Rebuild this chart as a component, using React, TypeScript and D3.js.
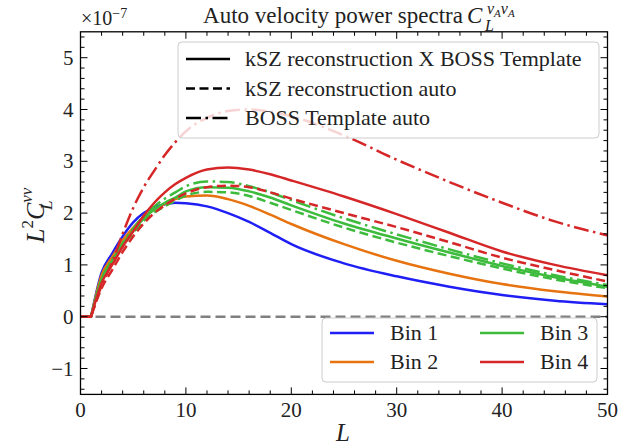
import React from 'react';
import * as d3 from 'd3';

// ---- data (values in units of 1e-7) ----
const L_VALUES = [0, 1, 2, 3, 4, 5, 6, 7, 8, 9, 10, 12, 14, 16, 18, 20, 25, 30, 35, 40, 45, 50];

const BIN1_CROSS = [0, 0, 0.85, 1.22, 1.55, 1.82, 2.0, 2.11, 2.17, 2.2, 2.19, 2.13, 2.0, 1.83, 1.62, 1.4, 1.03, 0.78, 0.58, 0.42, 0.31, 0.24];
const BIN2_CROSS = [0, 0, 0.8, 1.15, 1.47, 1.72, 1.92, 2.07, 2.18, 2.27, 2.32, 2.34, 2.27, 2.14, 1.97, 1.79, 1.4, 1.08, 0.83, 0.63, 0.49, 0.39];
const BIN3_CROSS = [0, 0, 0.72, 1.08, 1.4, 1.66, 1.9, 2.07, 2.2, 2.3, 2.42, 2.5, 2.49, 2.42, 2.3, 2.15, 1.8, 1.51, 1.24, 0.98, 0.76, 0.58];
const BIN3_KSZ = [0, 0, 0.7, 1.05, 1.36, 1.62, 1.85, 2.01, 2.13, 2.24, 2.34, 2.41, 2.4, 2.33, 2.2, 2.06, 1.72, 1.43, 1.17, 0.93, 0.72, 0.55];
const BIN3_BOSS = [0, 0, 0.72, 1.1, 1.42, 1.7, 1.95, 2.13, 2.28, 2.4, 2.52, 2.61, 2.6, 2.52, 2.4, 2.25, 1.9, 1.59, 1.3, 1.03, 0.8, 0.61];
const BIN4_CROSS = [0, 0, 0.65, 1.0, 1.35, 1.65, 1.95, 2.2, 2.4, 2.56, 2.68, 2.84, 2.88, 2.84, 2.75, 2.63, 2.32, 1.98, 1.62, 1.26, 1.0, 0.8];
const BIN4_KSZ = [0, 0, 0.55, 0.9, 1.25, 1.55, 1.8, 2.0, 2.15, 2.28, 2.38, 2.5, 2.53, 2.5, 2.4, 2.28, 2.0, 1.73, 1.44, 1.14, 0.9, 0.68];
const BIN4_BOSS = [0, 0, 0.6, 1.05, 1.6, 2.1, 2.5, 2.82, 3.12, 3.37, 3.58, 3.84, 3.97, 4.0, 3.96, 3.87, 3.5, 3.03, 2.6, 2.2, 1.84, 1.57];

const BIN_LABELS = ['Bin 1', 'Bin 2', 'Bin 3', 'Bin 4'];
const BIN_COLORS = ['#1f1ff5', '#e6730f', '#3cbb3c', '#d62728'];
const STYLE_LABELS = ['kSZ reconstruction X BOSS Template', 'kSZ reconstruction auto', 'BOSS Template auto'];

const X_TICKS = [0, 10, 20, 30, 40, 50];
const Y_TICKS = [-1, 0, 1, 2, 3, 4, 5];

const DASHES: Record<string, string | undefined> = {
  solid: undefined,
  dashed: '9 4.5',
  dashdot: '15 4.5 2.5 4.5',
};

const SERIES = [
  { values: BIN1_CROSS, bin: 0, style: 'solid' },
  { values: BIN2_CROSS, bin: 1, style: 'solid' },
  { values: BIN3_CROSS, bin: 2, style: 'solid' },
  { values: BIN3_KSZ, bin: 2, style: 'dashed' },
  { values: BIN3_BOSS, bin: 2, style: 'dashdot' },
  { values: BIN4_CROSS, bin: 3, style: 'solid' },
  { values: BIN4_KSZ, bin: 3, style: 'dashed' },
  { values: BIN4_BOSS, bin: 3, style: 'dashdot' },
];

const FONT = "'Liberation Serif', 'DejaVu Serif', serif";
const TXT = { fontFamily: FONT };

export default function App() {
  const W = 643;
  const H = 445;
  const x = d3.scaleLinear().domain([0, 50]).range([80.5, 607.5]);
  const y = d3.scaleLinear().domain([-1.5, 5.5]).range([394.4, 31.8]);
  const [x0, x1] = x.range();
  const [yb, yt] = y.range();

  const line = d3
    .line<[number, number]>()
    .x((d) => x(d[0]))
    .y((d) => y(d[1]))
    .curve(d3.curveMonotoneX);

  const pathFor = (vals: number[]) => {
    const pts: [number, number][] = L_VALUES.map((l, i) => [l, vals[i]]);
    const head = `M${x(pts[0][0])},${y(pts[0][1])}`;
    const rest = (line(pts.slice(1)) || '').replace(/^M/, 'L');
    return head + rest;
  };

  const xMinor = d3.range(0, 50.001, 2).filter((v) => Math.abs(v % 10) > 1e-6);
  const yMinor = d3.range(-1.4, 5.45, 0.2).filter((v) => Math.abs(v - Math.round(v)) > 1e-6);

  const majorLen = 7;
  const minorLen = 4;

  return (
    <svg width={W} height={H} style={{ position: 'absolute', left: 0, top: 0, background: '#fff', fontFamily: FONT }}>
      <rect x={0} y={0} width={W} height={H} fill="#fff" />
      <defs>
        <clipPath id="plotclip">
          <rect x={x0} y={yt} width={x1 - x0} height={yb - yt} />
        </clipPath>
      </defs>

      {/* zero line */}
      <line x1={x0} x2={x1} y1={y(0)} y2={y(0)} stroke="#808080" strokeWidth={2.5} strokeDasharray="10 5" />

      {/* curves */}
      <g clipPath="url(#plotclip)" fill="none">
        {SERIES.map((s, i) => (
          <path
            key={i}
            d={pathFor(s.values)}
            stroke={BIN_COLORS[s.bin]}
            strokeWidth={2.5}
            strokeDasharray={DASHES[s.style]}
            strokeLinejoin="round"
          />
        ))}
      </g>

      {/* ticks */}
      <g stroke="#000" strokeWidth={1}>
        {X_TICKS.map((t) => (
          <g key={'xt' + t}>
            <line x1={x(t)} x2={x(t)} y1={yb} y2={yb - majorLen} />
            <line x1={x(t)} x2={x(t)} y1={yt} y2={yt + majorLen} />
          </g>
        ))}
        {xMinor.map((t) => (
          <g key={'xm' + t}>
            <line x1={x(t)} x2={x(t)} y1={yb} y2={yb - minorLen} />
            <line x1={x(t)} x2={x(t)} y1={yt} y2={yt + minorLen} />
          </g>
        ))}
        {Y_TICKS.map((t) => (
          <g key={'yt' + t}>
            <line x1={x0} x2={x0 + majorLen} y1={y(t)} y2={y(t)} />
            <line x1={x1} x2={x1 - majorLen} y1={y(t)} y2={y(t)} />
          </g>
        ))}
        {yMinor.map((t) => (
          <g key={'ym' + t.toFixed(2)}>
            <line x1={x0} x2={x0 + minorLen} y1={y(t)} y2={y(t)} />
            <line x1={x1} x2={x1 - minorLen} y1={y(t)} y2={y(t)} />
          </g>
        ))}
      </g>

      {/* frame */}
      <rect x={x0} y={yt} width={x1 - x0} height={yb - yt} fill="none" stroke="#000" strokeWidth={1.3} />

      {/* tick labels */}
      <g fill="#222">
        {X_TICKS.map((t) => (
          <text key={'xl' + t} x={x(t)} y={yb + 23} textAnchor="middle" style={{ ...TXT, fontSize: 21 }}>
            {String(t)}
          </text>
        ))}
        {Y_TICKS.map((t) => (
          <text key={'yl' + t} x={x0 - 7} y={y(t) + 7} textAnchor="end" style={{ ...TXT, fontSize: 21 }}>
            {t < 0 ? '\u2212' + Math.abs(t) : String(t)}
          </text>
        ))}
      </g>

      {/* offset text */}
      <text x={81} y={25} fill="#222" style={{ ...TXT, fontSize: 20 }}>
        ×10
        <tspan dy={-7} style={{ fontSize: 14 }}>
          −7
        </tspan>
      </text>

      {/* title */}
      <text x={463} y={23} textAnchor="end" fill="#222" style={{ ...TXT, fontSize: 23 }}>
        Auto velocity power spectra
      </text>
      <text x={467} y={23} fill="#222" style={{ ...TXT, fontSize: 23, fontStyle: 'italic' }}>
        C
      </text>
      <text x={485} y={31} fill="#222" style={{ ...TXT, fontSize: 16, fontStyle: 'italic' }}>
        L
      </text>
      <text x={487} y={14} fill="#222" style={{ ...TXT, fontSize: 16, fontStyle: 'italic' }}>
        v<tspan dy={3} style={{ fontSize: 11 }}>A</tspan>
        <tspan dy={-3}>v</tspan>
        <tspan dy={3} style={{ fontSize: 11 }}>A</tspan>
      </text>

      {/* axis labels */}
      <text x={343} y={441} textAnchor="middle" fill="#222" style={{ ...TXT, fontSize: 25, fontStyle: 'italic' }}>
        L
      </text>
      <g transform="translate(44,243) rotate(-90)" fill="#222">
        <text x={0} y={0} style={{ ...TXT, fontSize: 26, fontStyle: 'italic' }}>
          L<tspan dy={-11} style={{ fontStyle: 'normal', fontSize: 17 }}>2</tspan>
          <tspan dy={11}>C</tspan>
          <tspan dy={-12} style={{ fontSize: 17 }}>vv</tspan>
        </text>
        <text x={33} y={8} style={{ ...TXT, fontSize: 17, fontStyle: 'italic' }}>
          L
        </text>
      </g>

      {/* style legend */}
      <g>
        <rect x={178} y={42} width={421} height={96} rx={4} fill="#fff" fillOpacity={0.8} stroke="#cccccc" strokeWidth={1} />
        {STYLE_LABELS.map((lab, i) => {
          const ry = 59 + i * 29.5;
          const st = ['solid', 'dashed', 'dashdot'][i];
          return (
            <g key={lab}>
              <line x1={186} x2={230} y1={ry} y2={ry} stroke="#000" strokeWidth={2.5} strokeDasharray={DASHES[st]} />
              <text x={245} y={ry + 7} fill="#222" style={{ ...TXT, fontSize: 22 }}>
                {lab}
              </text>
            </g>
          );
        })}
      </g>

      {/* bin legend */}
      <g>
        <rect x={322} y={318} width={275} height={64} rx={4} fill="#fff" fillOpacity={0.8} stroke="#cccccc" strokeWidth={1} />
        {BIN_LABELS.map((lab, i) => {
          const col = i < 2 ? 0 : 1;
          const row = i % 2;
          const lx = col === 0 ? 330 : 480;
          const ry = 333 + row * 29;
          return (
            <g key={lab}>
              <line x1={lx} x2={lx + 44} y1={ry} y2={ry} stroke={BIN_COLORS[i]} strokeWidth={2.5} />
              <text x={lx + 60} y={ry + 7} fill="#222" style={{ ...TXT, fontSize: 22 }}>
                {lab}
              </text>
            </g>
          );
        })}
      </g>
    </svg>
  );
}
